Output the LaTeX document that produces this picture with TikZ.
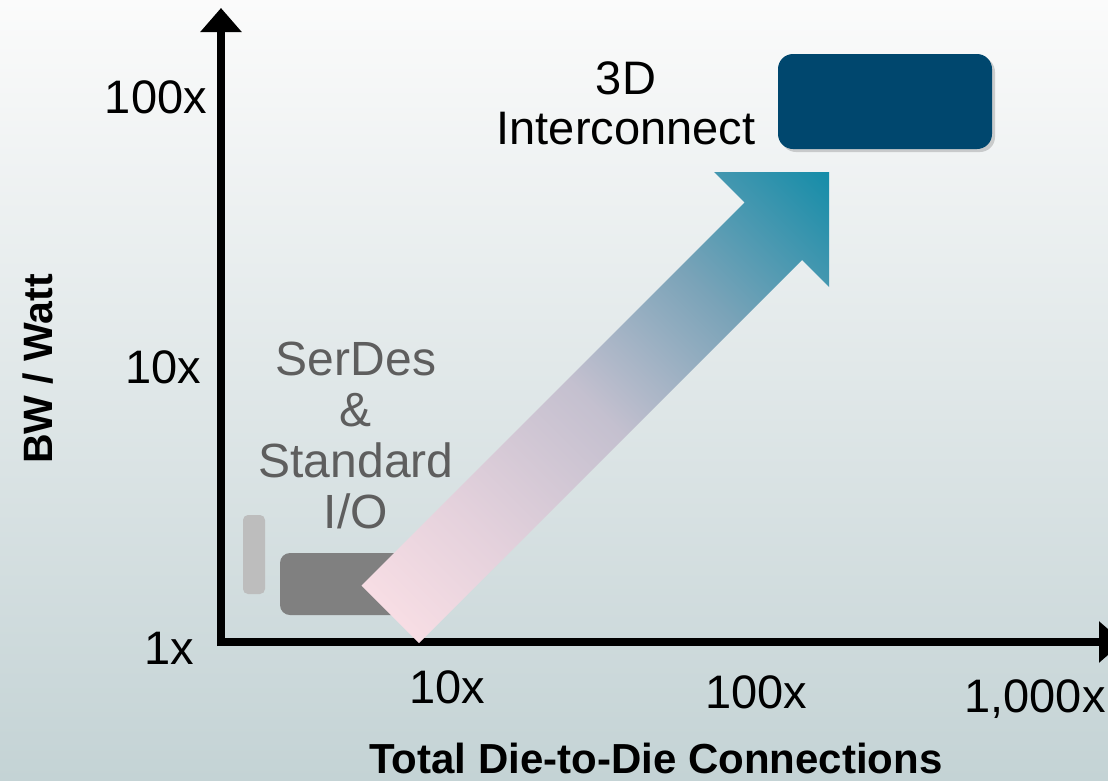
\documentclass[tikz,border=0pt]{standalone}
\usepackage{fontspec}
\setmainfont{Liberation Sans}
\usetikzlibrary{arrows.meta,shadows}
\definecolor{bgtop}{RGB}{251,251,251}
\definecolor{bgbot}{RGB}{196,211,213}
\definecolor{arrowtail}{RGB}{254,226,231}
\definecolor{arrowpk}{RGB}{228,209,220}
\definecolor{arrowmid}{RGB}{196,192,207}
\definecolor{arrowblue}{RGB}{122,163,184}
\definecolor{arrowhead}{RGB}{18,140,168}
\definecolor{boxblue}{RGB}{0,71,110}
\definecolor{boxgray}{RGB}{128,128,128}
\definecolor{boxlight}{RGB}{189,189,189}
\definecolor{serdestext}{RGB}{94,94,94}
\pgfdeclareverticalshading{arrowgrad}{100bp}{color(0bp)=(arrowtail); color(14bp)=(arrowtail); color(32bp)=(arrowpk); color(50bp)=(arrowmid); color(67bp)=(arrowblue); color(86bp)=(arrowhead); color(100bp)=(arrowhead)}
\tikzset{
  axisline/.style={line width=8pt,-{Triangle[width=40pt,length=24pt]}},
  ticklabel/.style={font=\fontsize{47}{56}\selectfont, inner sep=0pt, text=black},
  bigtitle/.style={font=\fontsize{42}{50}\selectfont\bfseries, inner sep=0pt, text=black},
  roundbox/.style={draw=none, inner sep=0pt},
}
\begin{document}
\begin{tikzpicture}[x=1pt,y=-1pt]
\useasboundingbox (0,0) rectangle (1108,780);
\clip (0,0) rectangle (1108,780);
% background
\shade[top color=bgtop, bottom color=bgbot] (0,0) rectangle (1108,780);
% axes
\coordinate (origin) at (221,642);
\coordinate (ytop) at (221,8);
\coordinate (xend) at (1123,642);
\coordinate (ybot) at (221,646);
\coordinate (xstart) at (217,642);
\draw[axisline] (ybot) -- (ytop);
\draw[axisline] (xstart) -- (xend);
% boxes
\node[roundbox, fill=boxlight, rounded corners=5pt, minimum width=22pt, minimum height=79pt] (lightbox) at (254,554.5) {};
\node[roundbox, fill=boxgray, rounded corners=10pt, minimum width=140pt, minimum height=62pt] (graybox) at (350,584) {};
\node[roundbox, fill=boxblue, rounded corners=15pt, minimum width=214pt, minimum height=95pt,
      drop shadow={opacity=0.35, shadow xshift=3pt, shadow yshift=-3pt}] (bluebox) at (885,101.5) {};
% big arrow
\shade[shading=arrowgrad, shading angle=-45]
  (361.5,585.5) -- (744.5,202.5) -- (714,172) -- (829,172) -- (829,287) -- (802,260) -- (419,643) -- cycle;
% y tick labels
\node[ticklabel, anchor=base east] (y100) at (207,113) {100x};
\node[ticklabel, anchor=base east] (y10) at (201,383) {10x};
\node[ticklabel, anchor=base east] (y1) at (194,664) {1x};
% x tick labels
\node[ticklabel, anchor=base] (x10) at (447,703) {10x};
\node[ticklabel, anchor=base] (x100) at (756,708) {100x};
\node[ticklabel, anchor=base] (x1000) at (1035,712) {1,000x};
% axis titles
\node[bigtitle, anchor=base] (xtitle) at (656,773) {Total Die-to-Die Connections};
\node[font=\fontsize{41}{48}\selectfont\bfseries, inner sep=0pt, anchor=base, rotate=90] (ytitle) at (52,369) {BW / Watt};
% annotations
\node[font=\fontsize{48}{51}\selectfont, text=serdestext, align=center, inner sep=0pt, anchor=center] (serdes) at (356,435) {SerDes\\\&\\Standard\\I/O};
\node[font=\fontsize{47}{50}\selectfont, text=black, align=center, inner sep=0pt, anchor=center] (threed) at (626,103) {3D\\Interconnect};
\end{tikzpicture}
\end{document}
